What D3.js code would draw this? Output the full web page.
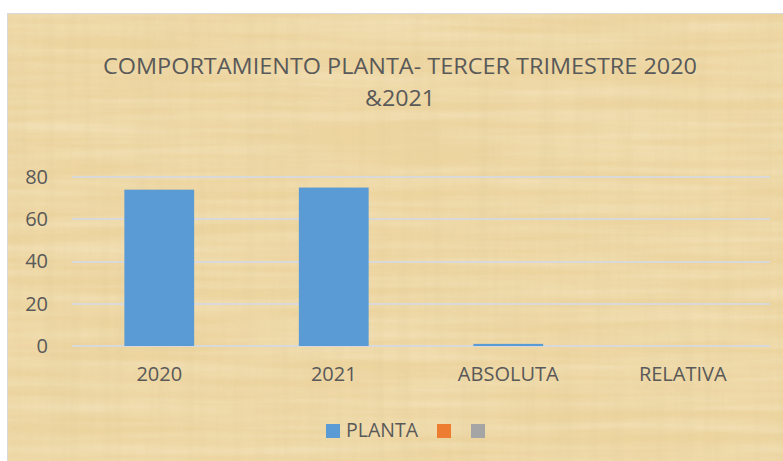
<!DOCTYPE html>
<html>
<head>
<meta charset="utf-8">
<script src="https://cdn.jsdelivr.net/npm/d3@7/dist/d3.min.js"></script>
<style>
  html, body { margin: 0; padding: 0; background: #ffffff; }
  svg { display: block; }
  text { font-family: "Open Sans", "Noto Sans", sans-serif; fill: #595959; }
</style>
</head>
<body>
<div id="chart"></div>
<script>
// chart data
var categories = ["2020", "2021", "ABSOLUTA", "RELATIVA"];
var plantaValues = [74, 75, 1, 0];
var yTicks = [0, 20, 40, 60, 80];
var legendNames = ["PLANTA", "", ""];
var legendColors = ["#5B9BD5", "#ED7D31", "#A5A5A5"];
var titleLines = ["COMPORTAMIENTO PLANTA- TERCER TRIMESTRE 2020", "&2021"];

var W = 783, H = 461;
var frame = { x: 7.5, y: 13.5 };
var plot = { left: 72, right: 770, top: 177, bottom: 346 };

var svg = d3.select("#chart").append("svg")
    .attr("width", W)
    .attr("height", H);

// papyrus-ish texture
var defs = svg.append("defs");
var f1 = defs.append("filter").attr("id", "fibH")
    .attr("x", 0).attr("y", 0).attr("width", "100%").attr("height", "100%");
f1.append("feTurbulence").attr("type", "fractalNoise")
    .attr("baseFrequency", "0.004 0.09").attr("numOctaves", 3).attr("seed", 4);
f1.append("feColorMatrix").attr("type", "matrix")
    .attr("values", "0 0 0 0 1  0 0 0 0 0.97  0 0 0 0 0.85  0 0 0 -1.4 0.95");
var f2 = defs.append("filter").attr("id", "fibV")
    .attr("x", 0).attr("y", 0).attr("width", "100%").attr("height", "100%");
f2.append("feTurbulence").attr("type", "fractalNoise")
    .attr("baseFrequency", "0.09 0.004").attr("numOctaves", 3).attr("seed", 9);
f2.append("feColorMatrix").attr("type", "matrix")
    .attr("values", "0 0 0 0 0.72  0 0 0 0 0.58  0 0 0 0 0.30  0 0 0 -1.4 0.85");
var f3 = defs.append("filter").attr("id", "blotch")
    .attr("x", 0).attr("y", 0).attr("width", "100%").attr("height", "100%");
f3.append("feTurbulence").attr("type", "fractalNoise")
    .attr("baseFrequency", "0.012").attr("numOctaves", 2).attr("seed", 2);
f3.append("feColorMatrix").attr("type", "matrix")
    .attr("values", "0 0 0 0 0.80  0 0 0 0 0.66  0 0 0 0 0.36  0 0 0 -1.2 0.75");

var bg = svg.append("g");
bg.append("rect")
    .attr("x", frame.x).attr("y", frame.y)
    .attr("width", W).attr("height", H)
    .attr("fill", "#EDD5A0");
bg.append("rect")
    .attr("x", frame.x).attr("y", frame.y)
    .attr("width", W).attr("height", H)
    .attr("filter", "url(#blotch)").attr("opacity", 0.35);
bg.append("rect")
    .attr("x", frame.x).attr("y", frame.y)
    .attr("width", W).attr("height", H)
    .attr("filter", "url(#fibH)").attr("opacity", 0.35);
bg.append("rect")
    .attr("x", frame.x).attr("y", frame.y)
    .attr("width", W).attr("height", H)
    .attr("filter", "url(#fibV)").attr("opacity", 0.3);
bg.append("rect")
    .attr("x", frame.x).attr("y", frame.y)
    .attr("width", W).attr("height", H)
    .attr("fill", "none").attr("stroke", "#D9D9D9").attr("stroke-width", 1);

// title
svg.append("text")
    .attr("x", 400).attr("y", 73.5)
    .attr("text-anchor", "middle")
    .attr("font-size", 22.5)
    .attr("textLength", 594).attr("lengthAdjust", "spacingAndGlyphs")
    .text(titleLines[0]);
svg.append("text")
    .attr("x", 400).attr("y", 105.5)
    .attr("text-anchor", "middle")
    .attr("font-size", 22.5)
    .attr("textLength", 70).attr("lengthAdjust", "spacingAndGlyphs")
    .text(titleLines[1]);

// scales
var x = d3.scaleBand()
    .domain(categories)
    .range([plot.left, plot.right])
    .padding(0);
var y = d3.scaleLinear()
    .domain([0, 80])
    .range([plot.bottom, plot.top]);

// gridlines
svg.append("g")
    .selectAll("line")
    .data(yTicks)
    .join("line")
    .attr("x1", plot.left).attr("x2", plot.right)
    .attr("y1", function(d) { return Math.round(y(d)); })
    .attr("y2", function(d) { return Math.round(y(d)); })
    .attr("stroke", "#D9D9D9")
    .attr("stroke-width", 2);

// y axis labels
var yAxis = svg.append("g")
    .attr("transform", "translate(" + (plot.left - 11) + ",0)")
    .call(d3.axisLeft(y).tickValues(yTicks).tickSize(0).tickPadding(13));
yAxis.select(".domain").remove();
yAxis.selectAll("text")
    .attr("font-size", 20)
    .attr("font-family", null)
    .attr("fill", "#595959");

// bars
var barW = x.bandwidth() * 0.4;
svg.append("g")
    .selectAll("rect")
    .data(plantaValues)
    .join("rect")
    .attr("x", function(d, i) { return x(categories[i]) + (x.bandwidth() - barW) / 2; })
    .attr("y", function(d) { return y(d); })
    .attr("width", barW)
    .attr("height", function(d) { return y(0) - y(d); })
    .attr("fill", legendColors[0]);

// x axis labels
var xAxis = svg.append("g")
    .attr("transform", "translate(0," + plot.bottom + ")")
    .call(d3.axisBottom(x).tickSize(0).tickPadding(21));
xAxis.select(".domain").remove();
xAxis.selectAll("text")
    .attr("font-size", 20)
    .attr("font-family", null)
    .attr("fill", "#595959");

// legend
var legend = svg.append("g").attr("transform", "translate(326,424)");
var lx = [0, 111, 145];
legendColors.forEach(function(c, i) {
    legend.append("rect")
        .attr("x", lx[i]).attr("y", 0)
        .attr("width", 14).attr("height", 14)
        .attr("fill", c);
    if (legendNames[i]) {
        legend.append("text")
            .attr("x", lx[i] + 20).attr("y", 13)
            .attr("font-size", 19.5)
            .text(legendNames[i]);
    }
});
</script>
</body>
</html>
